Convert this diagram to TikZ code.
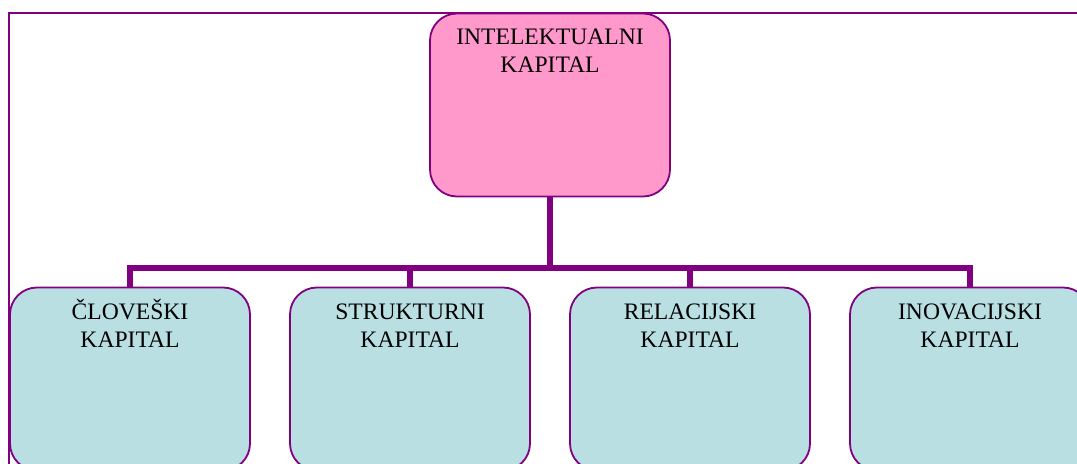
\documentclass[tikz,border=0pt]{standalone}
\usepackage{fontspec}
\setmainfont{Liberation Serif}
\usetikzlibrary{calc}
\definecolor{frameviolet}{HTML}{800080}
\definecolor{rootpink}{HTML}{FF99CC}
\definecolor{leafblue}{HTML}{B9DFE3}
\tikzset{
  orgbox/.style={draw=frameviolet, line width=1.8bp, rounded corners=27bp,
    minimum width=240bp, minimum height=183bp, inner sep=0pt},
  rootbox/.style={orgbox, fill=rootpink},
  leafbox/.style={orgbox, fill=leafblue},
  boxtext/.style={font=\fontsize{23.6bp}{28bp}\selectfont, align=center,
    anchor=base, inner sep=0pt, text=black},
  link/.style={draw=frameviolet, line width=6bp}
}
\begin{document}
\begin{tikzpicture}[x=1bp,y=-1bp]
\useasboundingbox (0,0) rectangle (1077,464);
\clip (0,0) rectangle (1077,464);
% outer frame
\draw[frameviolet, line width=2.2bp] (9,600) -- (9,13) -- (1200,13);
% boxes
\node[rootbox] (root) at (550,105) {};
\node[leafbox] (c1) at (130,379) {};
\node[leafbox] (c2) at (410,379) {};
\node[leafbox] (c3) at (690,379) {};
\node[leafbox] (c4) at (970,379) {};
% labels (base anchor sits on the last line)
\node[boxtext] at ($(root.north)+(0,60)$) {INTELEKTUALNI\\KAPITAL};
\node[boxtext] at ($(c1.north)+(0,61)$) {ČLOVEŠKI\\KAPITAL};
\node[boxtext] at ($(c2.north)+(0,61)$) {STRUKTURNI\\KAPITAL};
\node[boxtext] at ($(c3.north)+(0,61)$) {RELACIJSKI\\KAPITAL};
\node[boxtext] at ($(c4.north)+(0,61)$) {INOVACIJSKI\\KAPITAL};
% connectors
\coordinate (bus) at (550,268.5);
\draw[link] (root.south) -- (bus);
\foreach \c in {c1,c2,c3,c4}
  \draw[link] (\c.north) -- (\c.north |- bus) -- (bus);
\end{tikzpicture}
\end{document}
